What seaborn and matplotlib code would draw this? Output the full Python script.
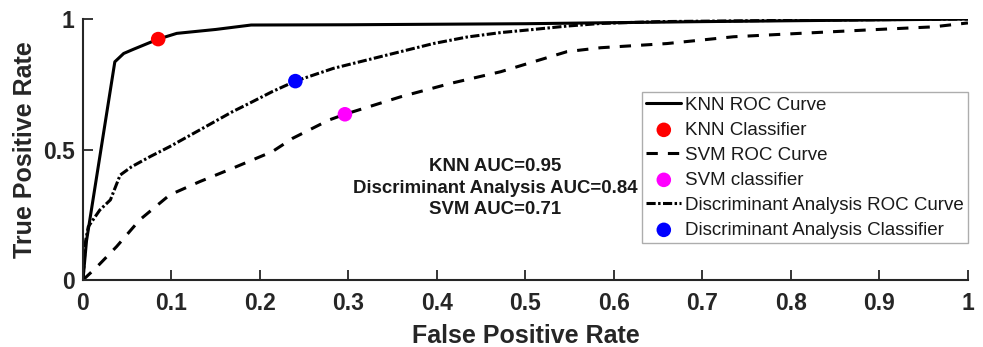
import matplotlib
matplotlib.use("Agg")
import matplotlib.pyplot as plt
import seaborn as sns
import pandas as pd

# ---- data ----
knn_fpr = [0.0, 0.004, 0.036, 0.046, 0.057, 0.085, 0.106, 0.15, 0.19, 0.3, 0.5, 0.7, 1.0]
knn_tpr = [0.0, 0.15, 0.836, 0.868, 0.884, 0.923, 0.945, 0.960, 0.977, 0.978, 0.982, 0.99, 1.0]

da_fpr = [0.0, 0.003, 0.006, 0.019, 0.031, 0.042, 0.055, 0.076, 0.098, 0.132, 0.169, 0.188,
          0.214, 0.240, 0.283, 0.321, 0.359, 0.396, 0.434, 0.472, 0.509, 0.547, 0.585,
          0.65, 0.8, 1.0]
da_tpr = [0.0, 0.15, 0.204, 0.268, 0.307, 0.402, 0.434, 0.473, 0.511, 0.575, 0.645, 0.677,
          0.722, 0.762, 0.811, 0.843, 0.875, 0.906, 0.931, 0.948, 0.960, 0.973, 0.983,
          0.99, 0.995, 1.0]

svm_fpr = [0.0, 0.016, 0.038, 0.064, 0.098, 0.132, 0.169, 0.214, 0.237, 0.278, 0.296,
           0.359, 0.415, 0.472, 0.509, 0.547, 0.585, 0.66, 0.735, 0.81, 0.886, 0.961, 1.0]
svm_tpr = [0.0, 0.051, 0.128, 0.230, 0.326, 0.377, 0.428, 0.492, 0.543, 0.613, 0.635,
           0.702, 0.753, 0.798, 0.836, 0.875, 0.89, 0.906, 0.932, 0.945, 0.958, 0.97, 0.985]

knn_point = (0.085, 0.923)
svm_point = (0.296, 0.635)
da_point = (0.240, 0.762)

auc_labels = ["KNN AUC=0.95", "Discriminant Analysis AUC=0.84", "SVM AUC=0.71"]
x_ticks = [0, 0.1, 0.2, 0.3, 0.4, 0.5, 0.6, 0.7, 0.8, 0.9, 1]
x_ticklabels = ["0", "0.1", "0.2", "0.3", "0.4", "0.5", "0.6", "0.7", "0.8", "0.9", "1"]
y_ticks = [0, 0.5, 1]
y_ticklabels = ["0", "0.5", "1"]

# ---- style ----
sns.set_theme(style="white")
plt.rcParams['font.family'] = ['Liberation Sans', 'DejaVu Sans']

fig = plt.figure(figsize=(9.83, 3.47), dpi=100)
ax = fig.add_axes([0.0844, 0.1931, 0.9003, 0.7521])

lw = 2.2
sns.lineplot(x=knn_fpr, y=knn_tpr, ax=ax, color="black", linewidth=lw,
             sort=False, estimator=None, label="KNN ROC Curve")
sns.scatterplot(x=[knn_point[0]], y=[knn_point[1]], ax=ax, color="#ff0000", s=110,
                edgecolor="none", label="KNN Classifier", zorder=5)
sns.lineplot(x=svm_fpr, y=svm_tpr, ax=ax, color="black", linewidth=lw,
             linestyle=(0, (3.7, 3.3)), sort=False, estimator=None, label="SVM ROC Curve")
sns.scatterplot(x=[svm_point[0]], y=[svm_point[1]], ax=ax, color="#ff00ff", s=110,
                edgecolor="none", label="SVM classifier", zorder=5)
sns.lineplot(x=da_fpr, y=da_tpr, ax=ax, color="black", linewidth=lw,
             linestyle=(0, (3.0, 0.8, 0.8, 0.8)), sort=False, estimator=None,
             label="Discriminant Analysis ROC Curve")
sns.scatterplot(x=[da_point[0]], y=[da_point[1]], ax=ax, color="#0000ff", s=110,
                edgecolor="none", label="Discriminant Analysis Classifier", zorder=5)

ax.set_xlim(0, 1)
ax.set_ylim(0, 1)
ax.set_xticks(x_ticks)
ax.set_xticklabels(x_ticklabels)
ax.set_yticks(y_ticks)
ax.set_yticklabels(y_ticklabels)

for s in ["top", "right"]:
    ax.spines[s].set_visible(False)
for s in ["left", "bottom"]:
    ax.spines[s].set_color("#262626")
    ax.spines[s].set_linewidth(1.5)

ax.tick_params(axis="both", direction="in", length=7, width=1.3, color="#262626",
               labelsize=16.5, bottom=True, left=True)
ax.tick_params(axis="x", pad=9)
ax.tick_params(axis="y", pad=6)
for lab in ax.get_xticklabels() + ax.get_yticklabels():
    lab.set_fontweight("bold")
    lab.set_color("#262626")

ax.set_xlabel("False Positive Rate", fontsize=18, fontweight="bold", color="#262626", labelpad=6)
ax.set_ylabel("True Positive Rate", fontsize=18, fontweight="bold", color="#262626", labelpad=4)

ax.text(0.466, 0.352, "\n".join(auc_labels), ha="center", va="center",
        fontsize=13.4, fontweight="bold", color="#1a1a1a", linespacing=1.35,
        transform=ax.transData)

leg = ax.legend(loc="lower right", bbox_to_anchor=(1.0, 0.14), fontsize=13.5,
                frameon=True, fancybox=False, handlelength=1.87, handletextpad=0.17,
                labelspacing=0.42, borderpad=0.25, borderaxespad=0.0)
leg.get_frame().set_edgecolor("#999999")
leg.get_frame().set_linewidth(1.0)
for t in leg.get_texts():
    t.set_color("#1a1a1a")

fig.savefig("out.png", dpi=100)
